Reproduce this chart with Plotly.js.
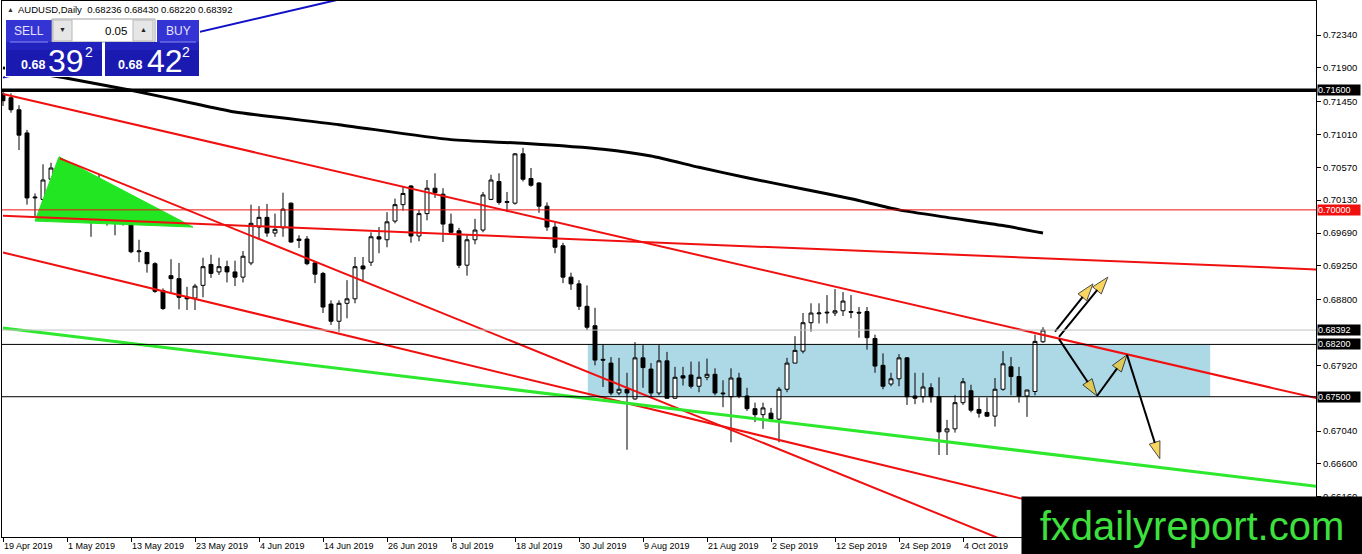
<!DOCTYPE html>
<html><head><meta charset="utf-8">
<script src="https://cdn.plot.ly/plotly-3.0.1.min.js"></script>
<style>html,body{margin:0;padding:0;background:#fff;}#chart{width:1362px;height:554px;}</style>
</head><body><div id="chart"></div>
<script>
// ---------------- data ----------------
const symbolName = 'AUDUSD,Daily';
const opens = [0.7155,0.7150,0.7134,0.7103,0.7016,0.7014,0.7041,0.7056,0.7048,0.7014,
0.6986,0.7005,0.6990,0.7011,0.6990,0.6990,0.6995,0.6944,0.6943,0.6928,
0.6892,0.6912,0.6908,0.6883,0.6882,0.6899,0.6927,0.6917,0.6924,0.6917,
0.6910,0.6929,0.6977,0.6990,0.6969,0.6976,0.7009,0.6959,0.6961,0.6929,
0.6915,0.6874,0.6851,0.6875,0.6881,0.6925,0.6930,0.6964,0.6960,0.6985,
0.7007,0.7032,0.6965,0.6995,0.7029,0.7021,0.6981,0.6972,0.6926,0.6960,
0.6973,0.7014,0.7038,0.7010,0.7009,0.7075,0.7042,0.7036,0.7005,0.6977,
0.6952,0.6910,0.6901,0.6871,0.6845,0.6800,0.6795,0.6755,0.6760,0.6747,
0.6802,0.6787,0.6755,0.6798,0.6748,0.6778,0.6779,0.6764,0.6776,0.6780,
0.6755,0.6750,0.6775,0.6751,0.6734,0.6726,0.6728,0.6720,0.6760,0.6795,
0.6811,0.6849,0.6861,0.6862,0.6862,0.6865,0.6864,0.6863,0.6864,0.6828,
0.6792,0.6767,0.6774,0.6802,0.6751,0.6750,0.6762,0.6750,0.6703,0.6707,
0.6742,0.6758,0.6733,0.6729,0.6724,0.6760,0.6790,0.6777,0.6751,0.6757,
0.68236];
const highs = [0.7160,0.7156,0.7140,0.7107,0.7022,0.7061,0.7063,0.7069,0.7063,0.7029,
0.7023,0.7007,0.7047,0.7027,0.7004,0.7017,0.7003,0.6960,0.6944,0.6930,
0.6895,0.6934,0.6929,0.6897,0.6901,0.6936,0.6940,0.6936,0.6932,0.6932,
0.6945,0.7007,0.7005,0.7008,0.6995,0.7023,0.7010,0.6966,0.6965,0.6930,
0.6917,0.6879,0.6879,0.6906,0.6937,0.6937,0.6970,0.6977,0.6997,0.7015,
0.7031,0.7033,0.7000,0.7040,0.7049,0.7029,0.6995,0.6976,0.6966,0.6988,
0.7024,0.7047,0.7049,0.7024,0.7076,0.7083,0.7056,0.7037,0.7010,0.6983,
0.6956,0.6916,0.6906,0.6899,0.6869,0.6820,0.6803,0.6802,0.6782,0.6823,
0.6819,0.6795,0.6819,0.6810,0.6790,0.6790,0.6797,0.6797,0.6801,0.6788,
0.6772,0.6788,0.6782,0.6762,0.6742,0.6742,0.6735,0.6763,0.6802,0.6831,
0.6862,0.6875,0.6875,0.6886,0.6894,0.6890,0.6886,0.6870,0.6870,0.6833,
0.6808,0.6782,0.6807,0.6803,0.6782,0.6782,0.6768,0.6776,0.6719,0.6752,
0.6775,0.6766,0.6749,0.6749,0.6775,0.6811,0.6803,0.6790,0.6759,0.6833,
0.68430];
const lows = [0.7139,0.7130,0.7080,0.7007,0.6990,0.7007,0.7040,0.7031,0.7012,0.6996,
0.6984,0.6964,0.6982,0.6979,0.6966,0.6979,0.6942,0.6930,0.6916,0.6889,
0.6866,0.6890,0.6867,0.6866,0.6866,0.6883,0.6909,0.6913,0.6903,0.6898,
0.6903,0.6926,0.6960,0.6964,0.6964,0.6964,0.6956,0.6949,0.6926,0.6902,
0.6862,0.6846,0.6837,0.6855,0.6875,0.6904,0.6925,0.6942,0.6950,0.6982,
0.6999,0.6956,0.6958,0.6986,0.7016,0.6957,0.6969,0.6922,0.6912,0.6954,
0.6970,0.7013,0.7007,0.6997,0.7007,0.7038,0.7031,0.6996,0.6972,0.6942,
0.6902,0.6893,0.6866,0.6839,0.6792,0.6763,0.6752,0.6752,0.6679,0.6746,
0.6762,0.6748,0.6752,0.6747,0.6747,0.6765,0.6761,0.6756,0.6772,0.6752,
0.6736,0.6689,0.6748,0.6731,0.6716,0.6707,0.6716,0.6689,0.6756,0.6795,
0.6808,0.6837,0.6848,0.6848,0.6858,0.6858,0.6855,0.6829,0.6813,0.6782,
0.6760,0.6764,0.6764,0.6739,0.6740,0.6742,0.6742,0.6672,0.6672,0.6702,
0.6739,0.6729,0.6722,0.6723,0.6710,0.6758,0.6752,0.6742,0.6723,0.6752,
0.68220];
const closes = [0.7146,0.7134,0.7100,0.7016,0.7017,0.7040,0.7056,0.7047,0.7014,0.6999,
0.7022,0.6990,0.7011,0.6986,0.6988,0.7001,0.6944,0.6945,0.6928,0.6891,
0.6868,0.6908,0.6883,0.6881,0.6898,0.6924,0.6915,0.6924,0.6917,0.6910,
0.6938,0.6982,0.6990,0.6969,0.6974,0.7001,0.6957,0.6961,0.6928,0.6914,
0.6870,0.6851,0.6875,0.6881,0.6924,0.6921,0.6964,0.6961,0.6984,0.7007,
0.7022,0.6965,0.6995,0.7029,0.7023,0.6981,0.6970,0.6926,0.6960,0.6973,
0.7020,0.7040,0.7010,0.7011,0.7075,0.7041,0.7033,0.7005,0.6977,0.6950,
0.6910,0.6901,0.6871,0.6843,0.6799,0.6799,0.6755,0.6760,0.6755,0.6802,
0.6789,0.6755,0.6798,0.6748,0.6776,0.6775,0.6764,0.6776,0.6780,0.6755,
0.6754,0.6775,0.6751,0.6734,0.6726,0.6735,0.6720,0.6760,0.6795,0.6812,
0.6849,0.6862,0.6862,0.6863,0.6865,0.6878,0.6863,0.6862,0.6829,0.6791,
0.6764,0.6774,0.6802,0.6750,0.6748,0.6763,0.6750,0.6703,0.6707,0.6742,
0.6770,0.6732,0.6728,0.6724,0.6760,0.6794,0.6777,0.6751,0.6759,0.6824,
0.68392];
const askPrice = 0.68422;
const lotSize = '0.05';

const xTickBars = [0,8,16,24,32,40,48,56,64,72,80,88,96,104,112,120];
const xTickLabels = ['19 Apr 2019','1 May 2019','13 May 2019','23 May 2019','4 Jun 2019','14 Jun 2019',
  '26 Jun 2019','8 Jul 2019','18 Jul 2019','30 Jul 2019','9 Aug 2019','21 Aug 2019','2 Sep 2019',
  '12 Sep 2019','24 Sep 2019','4 Oct 2019'];
const yTickVals = [0.7234,0.7190,0.7145,0.7101,0.7057,0.7013,0.6969,0.6925,0.6880,0.6792,0.6704,0.6660,0.6616];

// 200-day moving average (black curve)
const maBars = [0,8,16,24,29,42,56,65,75,81,87,93,100,106,112,118,125,130];
const maVals = [0.7190,0.7176,0.7160,0.7142,0.7131,0.7114,0.7094,0.7089,0.7081,0.7072,0.7057,0.7043,0.7028,0.7015,0.7000,0.6990,0.6979,0.6969];

// drawn trendlines: [bar, price] anchors
const upperChannelBars = [0,165],   upperChannelVals = [0.7155,0.6746];
const lowerChannelBars = [0,150],   lowerChannelVals = [0.6943,0.6555];
const steepLineBars    = [7.1,126], steepLineVals    = [0.7069,0.6554];
const flatLineBars     = [0,165],   flatLineVals     = [0.6992,0.6920];
const greenLineBars    = [0,165],   greenLineVals    = [0.6842,0.6629];
const blueLineBars     = [0,43],    blueLineVals     = [0.7177,0.7284];
const triangleBars = [7.0,4.0,23.75,7.0];
const triangleVals = [0.7071,0.6985,0.6977,0.7071];

// horizontal levels and zone
const thickLevel = 0.7160;
const redLevel = 0.7000;
const zoneLevels = [0.6820,0.6750];
const zoneBars = [73.1,150.9];

// projection arrows
const arrowX0 = [131.5,132.0,132.0,136.75,140.5];
const arrowY0 = [0.6837,0.6830,0.6827,0.6751,0.6806];
const arrowX1 = [136.25,138.1,136.75,140.5,144.6];
const arrowY1 = [0.6901,0.6910,0.6751,0.6806,0.6667];

// ---------------- build ----------------
const bars = opens.map((_, i) => i);
const bid = closes[closes.length - 1];
const FONT = 'Liberation Sans, Arial, sans-serif';

// pixel helpers for overlay widgets (plot area 2..1316 x 1..537)
const PX0 = 2, PX1 = 1316, PY0 = 1, PY1 = 537;
const fx = p => (p - PX0) / (PX1 - PX0);
const fy = p => (PY1 - p) / (PY1 - PY0);

const traces = [];
traces.push({type:'scatter', mode:'lines', x:triangleBars, y:triangleVals, fill:'toself',
  fillcolor:'#22e622', line:{color:'#22e622', width:1}, hoverinfo:'skip'});
traces.push({type:'candlestick', x:bars, open:opens, high:highs, low:lows, close:closes,
  increasing:{line:{color:'#000', width:1}, fillcolor:'#ffffff'},
  decreasing:{line:{color:'#000', width:1}, fillcolor:'#000000'},
  whiskerwidth:0, hoverinfo:'skip'});
traces.push({type:'scatter', mode:'lines', x:maBars, y:maVals, line:{color:'#000', width:3, shape:'spline', smoothing:0.6}, hoverinfo:'skip'});
const redLines = [[upperChannelBars,upperChannelVals],[lowerChannelBars,lowerChannelVals],[steepLineBars,steepLineVals],[flatLineBars,flatLineVals]];
redLines.forEach(([xs,ys]) => traces.push({type:'scatter', mode:'lines', x:xs, y:ys, line:{color:'#f01010', width:2}, hoverinfo:'skip'}));
traces.push({type:'scatter', mode:'lines', x:greenLineBars, y:greenLineVals, line:{color:'#2ee82e', width:3}, hoverinfo:'skip'});
traces.push({type:'scatter', mode:'lines', x:blueLineBars, y:blueLineVals, line:{color:'#1010c8', width:2}, hoverinfo:'skip'});
arrowX0.forEach((x0, k) => {
  traces.push({type:'scatter', mode:'lines+markers', x:[x0, arrowX1[k]], y:[arrowY0[k], arrowY1[k]],
    line:{color:'#000', width:2},
    marker:{symbol:['circle','arrow'], size:[0,18], angleref:'previous', color:'#f4c41c',
      line:{color:'#000', width:[0,1]}}, hoverinfo:'skip'});
});

const shapes = [];
// zone rectangle (below candles)
shapes.push({type:'rect', xref:'x', yref:'y', x0:zoneBars[0], x1:zoneBars[1], y0:zoneLevels[1], y1:zoneLevels[0],
  fillcolor:'#add8e6', line:{width:0}, layer:'below'});
function hline(v, color, w){ return {type:'line', xref:'paper', yref:'y', x0:0, x1:1, y0:v, y1:v, line:{color:color, width:w}, layer:'above'}; }
shapes.push(hline(thickLevel, '#000', 3.5));
shapes.push(hline(redLevel, '#f01010', 1));
shapes.push(hline(bid, '#c0c0c0', 1));
zoneLevels.forEach(v => shapes.push(hline(v, '#000', 1)));

// one-click trading panel
function rect(x0,y0,x1,y1,fill,lc){ return {type:'rect', xref:'paper', yref:'paper', x0:fx(x0), x1:fx(x1), y0:fy(y1), y1:fy(y0),
  fillcolor:fill, line:{color:lc||fill, width:lc?1:0}, layer:'above'}; }
shapes.push(rect(5,18,200,77,'#ffffff'));
shapes.push(rect(6,20,52,42,'#3434d4'));
shapes.push(rect(157,20,199,42,'#3434d4'));
shapes.push(rect(52,19,155,42,'#ffffff','#a0a0a0'));
shapes.push(rect(53,20,72,41,'#e6e6e6','#b8b8b8'));
shapes.push(rect(133,20,153,41,'#e6e6e6','#b8b8b8'));
shapes.push(rect(6,42,102,76,'#1a1ab0'));
shapes.push(rect(105,42,199,76,'#1a1ab0'));
shapes.push(rect(6,42,102,50,'#2222bf'));
shapes.push(rect(105,42,199,50,'#2222bf'));
shapes.push({type:'line', xref:'paper', yref:'paper', x0:fx(10), x1:fx(48), y0:fy(42), y1:fy(42), line:{color:'#8a8aee', width:1}, layer:'above'});
shapes.push({type:'line', xref:'paper', yref:'paper', x0:fx(160), x1:fx(196), y0:fy(42), y1:fy(42), line:{color:'#8a8aee', width:1}, layer:'above'});

const ann = [];
// x-axis date labels, left-aligned at their tick like MT4
xTickBars.forEach((b, k) => ann.push({xref:'x', yref:'paper', x:b, y:0, xanchor:'left', yanchor:'top', yshift:-2, xshift:-1,
  text:xTickLabels[k], showarrow:false, font:{family:FONT, size:9, color:'#000'}}));
// highlighted price labels
function priceTag(v, bg){ return {xref:'paper', yref:'y', x:1, y:v, xanchor:'left', yanchor:'middle', xshift:1,
  text:v.toFixed(5), showarrow:false, bgcolor:bg, borderpad:0, width:42, height:10, align:'left',
  font:{family:FONT, size:9, color:'#fff'}}; }
ann.push(priceTag(thickLevel, '#000'));
ann.push(priceTag(redLevel, '#f01010'));
ann.push(priceTag(bid, '#000'));
zoneLevels.forEach(v => ann.push(priceTag(v, '#000')));
// panel header
const quote = [opens, highs, lows, closes].map(a => a[a.length-1].toFixed(5)).join(' ');
function txt(x, y, s, size, color, anchor, bold){ return {xref:'paper', yref:'paper', x:fx(x), y:fy(y), xanchor:anchor||'center', yanchor:'middle',
  text:bold ? '<b>'+s+'</b>' : s, showarrow:false, borderpad:0, font:{family:FONT, size:size, color:color}}; }
ann.push(txt(6, 10, '▲', 7, '#333', 'left'));
ann.push(txt(17, 10, symbolName + '  ' + quote, 9.5, '#000', 'left'));
ann.push(txt(29, 31, 'SELL', 12, '#e4e4ff'));
ann.push(txt(178, 31, 'BUY', 12, '#e4e4ff'));
ann.push(txt(62, 30, '▼', 7, '#222'));
ann.push(txt(143, 30, '▲', 7, '#222'));
ann.push(txt(128, 31, lotSize, 11.5, '#000', 'right'));
function priceParts(p){ const s = p.toFixed(5); return [s.slice(0,4), s.slice(4,6), s.slice(6)]; }
const sp = priceParts(bid), ap = priceParts(askPrice);
ann.push(txt(20, 65, sp[0], 12.5, '#fff', 'left', true));
ann.push(txt(47, 61, sp[1], 32, '#fff', 'left'));
ann.push(txt(84, 52, sp[2], 14, '#fff', 'left'));
ann.push(txt(117, 65, ap[0], 12.5, '#fff', 'left', true));
ann.push(txt(146, 61, ap[1], 32, '#fff', 'left'));
ann.push(txt(181, 52, ap[2], 14, '#fff', 'left'));
// watermark
ann.push({xref:'paper', yref:'paper', x:fx(1192), y:fy(525.5), xanchor:'center', yanchor:'middle',
  text:'fxdailyreport.com', showarrow:false, bgcolor:'#000', width:340, height:57, borderpad:0,
  font:{family:FONT, size:40, color:'#3ee03e'}});

const layout = {
  width:1362, height:554, margin:{l:2, r:46, t:1, b:17},
  paper_bgcolor:'#fff', plot_bgcolor:'#fff', showlegend:false, dragmode:false,
  xaxis:{range:[-0.125, 164.125], showgrid:false, zeroline:false, showline:true, mirror:true,
    linecolor:'#000', linewidth:1, ticks:'outside', ticklen:4, tickcolor:'#000',
    tickmode:'array', tickvals:xTickBars, showticklabels:false, rangeslider:{visible:false}, fixedrange:true},
  yaxis:{side:'right', range:[0.65623, 0.72795], showgrid:false, zeroline:false, showline:true, mirror:true,
    linecolor:'#000', linewidth:1, ticks:'outside', ticklen:4, tickcolor:'#000',
    tickmode:'array', tickvals:yTickVals, ticktext:yTickVals.map(v => v.toFixed(5)),
    tickfont:{family:FONT, size:9.5, color:'#000'}, fixedrange:true},
  shapes:shapes, annotations:ann
};
Plotly.newPlot('chart', traces, layout, {displayModeBar:false, staticPlot:true});
</script></body></html>
